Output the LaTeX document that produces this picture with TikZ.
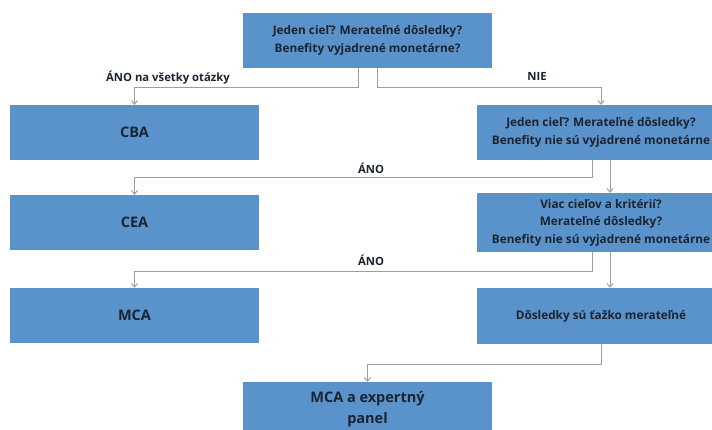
\documentclass[tikz,border=0pt]{standalone}
\usepackage{fontspec}
\setmainfont{Open Sans}
\usetikzlibrary{arrows.meta, positioning, calc}
\definecolor{boxblue}{HTML}{5A93CB}
\definecolor{textdark}{HTML}{1B2430}
\definecolor{linegray}{HTML}{9E9E9E}

\begin{document}
\begin{tikzpicture}[
    x=1pt, y=-1pt,
    box/.style={rectangle, fill=boxblue, text=textdark, minimum width=249pt, minimum height=55pt, inner sep=0pt, align=center, font=\fontsize{11.8}{17.5}\selectfont\bfseries},
    bigbox/.style={box, font=\fontsize{14.5}{21}\selectfont\bfseries},
    link/.style={-{Straight Barb[length=3.5pt, width=6pt]}, draw=linegray, line width=1pt},
    lbl/.style={text=textdark, font=\fontsize{11.3}{13}\selectfont\bfseries}
]
\clip (0,0) rectangle (712,430);
\fill[white] (0,0) rectangle (712,430);

% Boxes
\node[box] (q1) at (367.5,40.5) {Jeden cieľ? Merateľné dôsledky?\\Benefity vyjadrené monetárne?};
\node[bigbox] (cba) at (134.5,132.5) {CBA};
\node[box, minimum width=248pt] (q2) at (601,132.5) {Jeden cieľ? Merateľné dôsledky?\\Benefity nie sú vyjadrené monetárne};
\node[bigbox] (cea) at (134.5,222.5) {CEA};
\node[box, minimum width=248pt, minimum height=59pt] (q3) at (601,222.5) {Viac cieľov a kritérií?\\Merateľné dôsledky?\\Benefity nie sú vyjadrené monetárne};
\node[bigbox] (mca) at (134.5,315.5) {MCA};
\node[box, minimum width=248pt, minimum height=56pt] (hard) at (601,316) {Dôsledky sú ťažko merateľné};
\node[bigbox, minimum height=55pt] (panel) at (367.5,409.5) {MCA a expertný\\panel};

% Connectors
\draw[link] ([xshift=-9.5pt]q1.south) -- ++(0,-19pt) -| (cba.north);
\draw[link] ([xshift=9.5pt]q1.south) -- ++(0,-19pt) -| (q2.north);
\draw[link] ([xshift=-9pt]q2.south) -- ++(0,-17pt) -| (cea.north);
\draw[link] ([xshift=9pt]q2.south) -- ([xshift=9pt]q3.north);
\draw[link] ([xshift=-9pt]q3.south) -- ++(0,-19pt) -| (mca.north);
\draw[link] ([xshift=9pt]q3.south) -- ([xshift=9pt]hard.north);
\draw[link] (hard.south) -- ++(0,-20pt) -| (panel.north);

% Labels
\node[lbl] (allyes) at (168,78) {ÁNO na všetky otázky};
\node[lbl] (no) at (537,76) {NIE};
\node[lbl] (yes1) at (371,168) {ÁNO};
\node[lbl] (yes2) at (371,260) {ÁNO};

\end{tikzpicture}
\end{document}
